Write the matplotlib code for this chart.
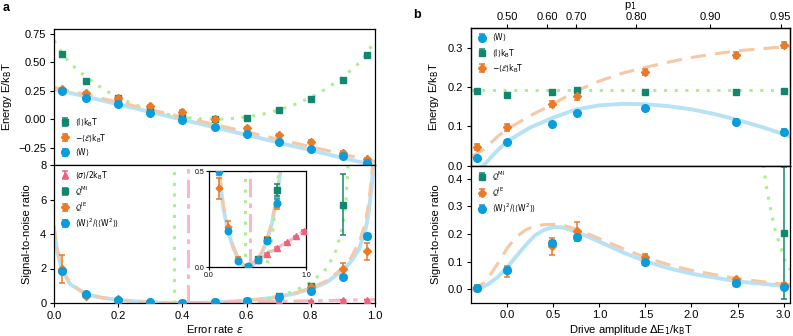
import numpy as np
import matplotlib
matplotlib.use('Agg')
import matplotlib.pyplot as plt

plt.rcParams['font.family'] = ['Liberation Sans', 'DejaVu Sans']
plt.rcParams['font.size'] = 8
plt.rcParams['axes.linewidth'] = 0.9
plt.rcParams['xtick.major.size'] = 3
plt.rcParams['ytick.major.size'] = 3
plt.rcParams['xtick.major.pad'] = 2.5
plt.rcParams['ytick.major.pad'] = 2.5

# colours
c_w = '#0a9ddb'
c_i = '#11876f'
c_e = '#ea7a25'
c_s = '#f0607f'
l_w = '#b7e2f5'
l_e = '#f8c7a4'
l_i = '#a9f08e'
l_s = '#f7b8c8'

# ---- panel a data ----
eps = [0.025, 0.1, 0.2, 0.3, 0.4, 0.5, 0.6, 0.7, 0.8, 0.9, 0.975]
info_a = [0.573, 0.336, 0.184, 0.082, 0.023, 0.0, 0.014, 0.079, 0.181, 0.348, 0.564]
negE_a = [0.266, 0.228, 0.184, 0.117, 0.067, 0.003, -0.079, -0.138, -0.196, -0.293, -0.351]
work_a = [0.248, 0.184, 0.132, 0.058, -0.006, -0.070, -0.132, -0.199, -0.258, -0.319, -0.381]
negE_a_err = [0.012, 0.012, 0.012, 0.012, 0.012, 0.012, 0.012, 0.012, 0.012, 0.012, 0.012]

# theory curves, panel a top (sampled)
eps_th = [0.0, 0.025, 0.05, 0.1, 0.15, 0.2, 0.25, 0.3, 0.35, 0.4, 0.45, 0.5,
          0.55, 0.6, 0.65, 0.7, 0.75, 0.8, 0.85, 0.9, 0.95, 0.975, 1.0]
info_th = [0.69, 0.58, 0.49, 0.37, 0.27, 0.19, 0.13, 0.08, 0.045, 0.02, 0.005, 0.0,
           0.005, 0.02, 0.045, 0.08, 0.13, 0.19, 0.27, 0.37, 0.49, 0.58, 0.69]
eps_lin = [0.0, 1.0]
negE_th = [0.28, -0.37]
work_th = [0.265, -0.405]

# panel a bottom (signal-to-noise)
snr_w_a = [1.83, 0.5, 0.19, 0.033, 0.003, 0.038, 0.137, 0.332, 0.69, 1.51, 3.86]
snr_w_a_err = [0.06, 0.02, 0.01, 0.005, 0.003, 0.005, 0.01, 0.02, 0.04, 0.06, 0.08]
snr_e_a = [1.97, 0.41, 0.21, 0.04, 0.005, 0.04, 0.14, 0.33, 0.93, 1.97, 2.99]
snr_e_a_err = [0.8, 0.055, 0.03, 0.01, 0.005, 0.01, 0.015, 0.03, 0.08, 0.35, 0.48]
eps_mi = [0.4, 0.5, 0.6, 0.7, 0.8, 0.9, 0.975]
snr_i_a = [0.002, 0.04, 0.14, 0.40, 1.0, 5.7, 3.86]
snr_i_a_err = [0.003, 0.008, 0.012, 0.03, 0.1, 1.75, 0.1]
eps_sig = [0.5, 0.6, 0.7, 0.8, 0.9, 0.975]
sigma_a = [0.038, 0.067, 0.099, 0.128, 0.159, 0.19]

eps_snr_th = [0.0, 0.01, 0.025, 0.05, 0.1, 0.15, 0.2, 0.25, 0.3, 0.35, 0.4, 0.45, 0.5,
              0.55, 0.6, 0.65, 0.7, 0.75, 0.8, 0.85, 0.9, 0.925, 0.95, 0.97, 0.98, 0.99, 0.995]
snr_w_th = [4.3, 3.0, 1.9, 1.1, 0.5, 0.3, 0.18, 0.1, 0.045, 0.012, 0.0, 0.008, 0.035,
            0.08, 0.14, 0.23, 0.36, 0.55, 0.82, 1.2, 1.9, 2.4, 3.1, 4.2, 5.2, 6.8, 8.2]
snr_e_th = [4.5, 3.2, 2.0, 1.15, 0.53, 0.32, 0.19, 0.11, 0.05, 0.013, 0.0, 0.009, 0.037,
            0.085, 0.15, 0.245, 0.38, 0.58, 0.88, 1.3, 2.05, 2.65, 3.5, 4.7, 5.8, 7.5, 8.5]
eps_mi_th = [0.6, 0.65, 0.7, 0.75, 0.8, 0.85, 0.88, 0.9, 0.91, 0.916, 0.92]
snr_i_th = [0.02, 0.15, 0.38, 0.7, 1.2, 2.0, 3.1, 4.5, 6.0, 8.0, 9.0]
eps_sig_th = [0.418, 0.5, 0.6, 0.7, 0.8, 0.9, 1.0]
sigma_th = [0.012, 0.038, 0.067, 0.099, 0.128, 0.159, 0.2]
mi_pole = 0.374
sigma_pole = 0.418

# ---- panel b data ----
drive = [-0.33, 0.0, 0.48, 0.76, 1.5, 2.48, 3.0]
work_b = [0.019, 0.060, 0.105, 0.133, 0.147, 0.110, 0.086]
work_b_err = [0.003, 0.003, 0.003, 0.003, 0.004, 0.008, 0.008]
info_b = [0.189, 0.180, 0.186, 0.192, 0.186, 0.187, 0.190]
info_b_err = [0.003, 0.003, 0.003, 0.003, 0.003, 0.003, 0.003]
negE_b = [0.047, 0.097, 0.156, 0.176, 0.238, 0.281, 0.306]
negE_b_err = [0.008, 0.008, 0.008, 0.008, 0.008, 0.008, 0.008]

drive_th = [-0.395, -0.26, -0.1, 0.0, 0.25, 0.5, 0.75, 1.0, 1.25, 1.5, 1.75,
            2.0, 2.25, 2.5, 2.75, 3.0, 3.07]
work_b_th = [-0.02, 0.0, 0.04, 0.062, 0.097, 0.122, 0.143, 0.153, 0.157, 0.156, 0.151,
             0.143, 0.131, 0.116, 0.099, 0.080, 0.074]
negE_b_th = [0.022, 0.04, 0.075, 0.093, 0.127, 0.157, 0.19, 0.215, 0.235, 0.25, 0.263,
             0.275, 0.284, 0.292, 0.297, 0.302, 0.304]
info_b_th = 0.193

snr_w_b = [0.005, 0.07, 0.169, 0.188, 0.1, 0.024, 0.0095]
snr_w_b_err = [0.004, 0.006, 0.006, 0.006, 0.005, 0.003, 0.003]
snr_e_b = [0.005, 0.065, 0.155, 0.209, 0.115, 0.036, 0.016]
snr_e_b_err = [0.01, 0.02, 0.03, 0.033, 0.012, 0.006, 0.006]
snr_i_b = [0.005, 0.07, 0.169, 0.188, 0.1, 0.024, 0.203]
snr_i_b_err = [0.004, 0.006, 0.006, 0.006, 0.005, 0.003, 0.24]

drive_snr_th = [-0.395, -0.33, -0.25, -0.2, -0.1, 0.0, 0.1, 0.2, 0.3, 0.4, 0.5, 0.6, 0.75,
                1.0, 1.25, 1.5, 1.75, 2.0, 2.5, 3.0, 3.07]
snr_w_b_th = [0.0, 0.003, 0.01, 0.02, 0.045, 0.08, 0.12, 0.16, 0.195, 0.215, 0.225, 0.224,
              0.208, 0.172, 0.134, 0.101, 0.076, 0.056, 0.028, 0.012, 0.011]
snr_e_b_th = [0.0, 0.006, 0.025, 0.045, 0.095, 0.15, 0.19, 0.215, 0.229, 0.234, 0.235, 0.232,
              0.218, 0.183, 0.148, 0.115, 0.089, 0.068, 0.038, 0.018, 0.016]
drive_mi_th = [2.78, 2.82, 2.87, 2.92, 2.97, 3.02, 3.07]
snr_i_b_th = [0.45, 0.36, 0.27, 0.2, 0.15, 0.1, 0.07]

p1_ticks = [0.0, 0.43, 0.75, 1.40, 2.20, 2.97]
p1_labels = ['0.50', '0.60', '0.70', '0.80', '0.90', '0.95']

lab_w = r'$\langle\mathrm{W}\rangle$'
lab_i = r'$\langle\mathrm{I}\rangle\mathrm{k_BT}$'
lab_e = r'$-\langle\mathcal{E}\rangle\mathrm{k_BT}$'
lab_s = r'$\langle\sigma\rangle/2\mathrm{k_BT}$'
lab_qmi = r'$\mathcal{Q}^\mathrm{MI}$'
lab_qie = r'$\mathcal{Q}^\mathrm{IE}$'
lab_snr = r'$\langle\mathrm{W}\rangle^2/\langle\langle\mathrm{W}^2\rangle\rangle$'

W, H = 793, 336
fig = plt.figure(figsize=(W / 100, H / 100), dpi=100)


def box(x0, y0, x1, y1):
    return [x0 / W, 1 - y1 / H, (x1 - x0) / W, (y1 - y0) / H]


ax_a1 = fig.add_axes(box(54, 29, 375, 165))
ax_a2 = fig.add_axes(box(54, 165, 375, 303))
ax_in = fig.add_axes(box(209, 171, 306, 267))
ax_b1 = fig.add_axes(box(471, 28, 790, 165.5))
ax_b2 = fig.add_axes(box(471, 165.5, 790, 302.7))

eb = dict(capsize=2.5, elinewidth=1.1, capthick=1.1, linestyle='none', zorder=5)
leg = dict(fontsize=5.5, frameon=False, handlelength=1.0, handletextpad=0.8,
           labelspacing=0.45, borderaxespad=0.15)

# --- a top ---
ax = ax_a1
ax.plot(eps_th, info_th, ls=(0, (1, 2.5)), color=l_i, lw=2.2, zorder=2)
ax.plot(eps_lin, negE_th, ls=(0, (5, 3)), color=l_e, lw=2.2, zorder=2)
ax.plot(eps_lin, work_th, ls='-', color=l_w, lw=2.8, zorder=1)
ax.errorbar(eps, info_a, yerr=0.008, fmt='s', color=c_i, ms=5, label=lab_i, **eb)
ax.errorbar(eps, negE_a, yerr=negE_a_err, fmt='D', color=c_e, ms=4, label=lab_e, **eb)
ax.errorbar(eps, work_a, yerr=0.006, fmt='o', color=c_w, ms=5.5, label=lab_w, **eb)
ax.set_xlim(0, 1)
ax.set_ylim(-0.40, 0.79)
ax.set_yticks([-0.25, 0.0, 0.25, 0.5, 0.75])
ax.set_yticklabels(['\u22120.25', '0.00', '0.25', '0.50', '0.75'])
ax.set_xticks([])
ax.set_ylabel(r'Energy E/k$_\mathrm{B}$T', labelpad=3)
ax.legend(loc='lower left', bbox_to_anchor=(0.01, 0.02), **leg)

# --- a bottom ---
ax = ax_a2
for a in (ax_a2, ax_in):
    a.plot(eps_snr_th, snr_w_th, '-', color=l_w, lw=2.8, zorder=1)
    a.plot(eps_snr_th, snr_e_th, ls=(0, (5, 3)), color=l_e, lw=2.0, zorder=2)
    a.plot(eps_mi_th, snr_i_th, ls=(0, (1, 2.5)), color=l_i, lw=2.2, zorder=2)
    a.axvline(mi_pole, ls=(0, (1, 2.5)), color=l_i, lw=2.2, zorder=2)
    a.plot(eps_sig_th, sigma_th, ls=(0, (6, 2, 1.5, 2)), color=l_s, lw=2.2, zorder=2)
    a.axvline(sigma_pole, ls=(0, (6, 2, 1.5, 2)), color=l_s, lw=2.2, zorder=2)
    a.errorbar(eps_sig, sigma_a, yerr=0.004, fmt='^', color=c_s, ms=5, label=lab_s, **eb)
    a.errorbar(eps_mi, snr_i_a, yerr=snr_i_a_err, fmt='s', color=c_i, ms=5, label=lab_qmi, **eb)
    a.errorbar(eps, snr_e_a, yerr=snr_e_a_err, fmt='D', color=c_e, ms=4, label=lab_qie, **eb)
    a.errorbar(eps, snr_w_a, yerr=snr_w_a_err, fmt='o', color=c_w, ms=5.5, label=lab_snr, **eb)
ax.set_xlim(0, 1)
ax.set_ylim(0, 8)
ax.set_yticks([0, 2, 4, 6, 8])
ax.set_xticks([0, 0.2, 0.4, 0.6, 0.8, 1.0])
ax.set_xticklabels(['0.0', '0.2', '0.4', '0.6', '0.8', '1.0'])
ax.set_xlabel(r'Error rate $\epsilon$', labelpad=2)
ax.set_ylabel('Signal-to-noise ratio', labelpad=6)
ax.legend(loc='upper left', bbox_to_anchor=(0.01, 1.0), **leg)

ax_in.set_xlim(0, 1)
ax_in.set_ylim(0, 0.5)
ax_in.set_xticks([0, 1])
ax_in.set_xticklabels(['0.0', '1.0'])
ax_in.set_yticks([0, 0.5])
ax_in.set_yticklabels(['0.0', '0.5'])
ax_in.tick_params(labelsize=5, length=2, pad=1.5)
for m in ax_in.lines:
    m.set_markersize(m.get_markersize() * 0.85)

# --- b top ---
ax = ax_b1
ax.plot(drive_th, work_b_th, '-', color=l_w, lw=2.8, zorder=1)
ax.plot(drive_th, negE_b_th, ls=(0, (5, 3)), color=l_e, lw=2.2, zorder=2)
ax.axhline(info_b_th, ls=(0, (1, 2.5)), color=l_i, lw=2.2, zorder=2)
ax.errorbar(drive, work_b, yerr=work_b_err, fmt='o', color=c_w, ms=5.5, label=lab_w, **eb)
ax.errorbar(drive, info_b, yerr=info_b_err, fmt='s', color=c_i, ms=5, label=lab_i, **eb)
ax.errorbar(drive, negE_b, yerr=negE_b_err, fmt='D', color=c_e, ms=4, label=lab_e, **eb)
ax.set_xlim(-0.395, 3.07)
ax.set_ylim(0, 0.35)
ax.set_yticks([0.0, 0.1, 0.2, 0.3])
ax.set_yticklabels(['0.0', '0.1', '0.2', '0.3'])
ax.set_xticks([])
ax.set_ylabel(r'Energy E/k$_\mathrm{B}$T', labelpad=5)
ax.legend(loc='upper left', bbox_to_anchor=(0.01, 1.0), **leg)
top = ax.twiny()
top.set_xlim(ax.get_xlim())
top.set_xticks(p1_ticks)
top.set_xticklabels(p1_labels)
top.tick_params(pad=1.5)
top.set_xlabel(r'p$_1$')
top.xaxis.set_label_coords(0.5, 1 + 22 / 137.5)
top.xaxis.label.set_va('center')

# --- b bottom ---
ax = ax_b2
ax.plot(drive_snr_th, snr_w_b_th, '-', color=l_w, lw=2.8, zorder=1)
ax.plot(drive_snr_th, snr_e_b_th, ls=(0, (5, 3)), color=l_e, lw=2.2, zorder=2)
ax.plot(drive_mi_th, snr_i_b_th, ls=(0, (1, 2.5)), color=l_i, lw=2.2, zorder=2)
ax.errorbar(drive, snr_i_b, yerr=snr_i_b_err, fmt='s', color=c_i, ms=5, label=lab_qmi, **eb)
ax.errorbar(drive, snr_e_b, yerr=snr_e_b_err, fmt='D', color=c_e, ms=4, label=lab_qie, **eb)
ax.errorbar(drive, snr_w_b, yerr=snr_w_b_err, fmt='o', color=c_w, ms=5.5, label=lab_snr, **eb)
ax.set_xlim(-0.395, 3.07)
ax.set_ylim(-0.049, 0.448)
ax.set_yticks([0.0, 0.1, 0.2, 0.3, 0.4])
ax.set_yticklabels(['0.0', '0.1', '0.2', '0.3', '0.4'])
ax.set_xticks([0, 0.5, 1.0, 1.5, 2.0, 2.5, 3.0])
ax.set_xticklabels(['0.0', '0.5', '1.0', '1.5', '2.0', '2.5', '3.0'])
ax.set_xlabel(r'Drive amplitude $\Delta$E$_1$/k$_\mathrm{B}$T', labelpad=2)
ax.set_ylabel('Signal-to-noise ratio', labelpad=5)
ax.legend(loc='upper left', bbox_to_anchor=(0.01, 1.0), **leg)

fig.text(3 / W, 1 - 8 / H, 'a', fontsize=9, fontweight='bold', va='center')
fig.text(413 / W, 1 - 15 / H, 'b', fontsize=9, fontweight='bold', va='center')

fig.savefig('out.png', dpi=100)
